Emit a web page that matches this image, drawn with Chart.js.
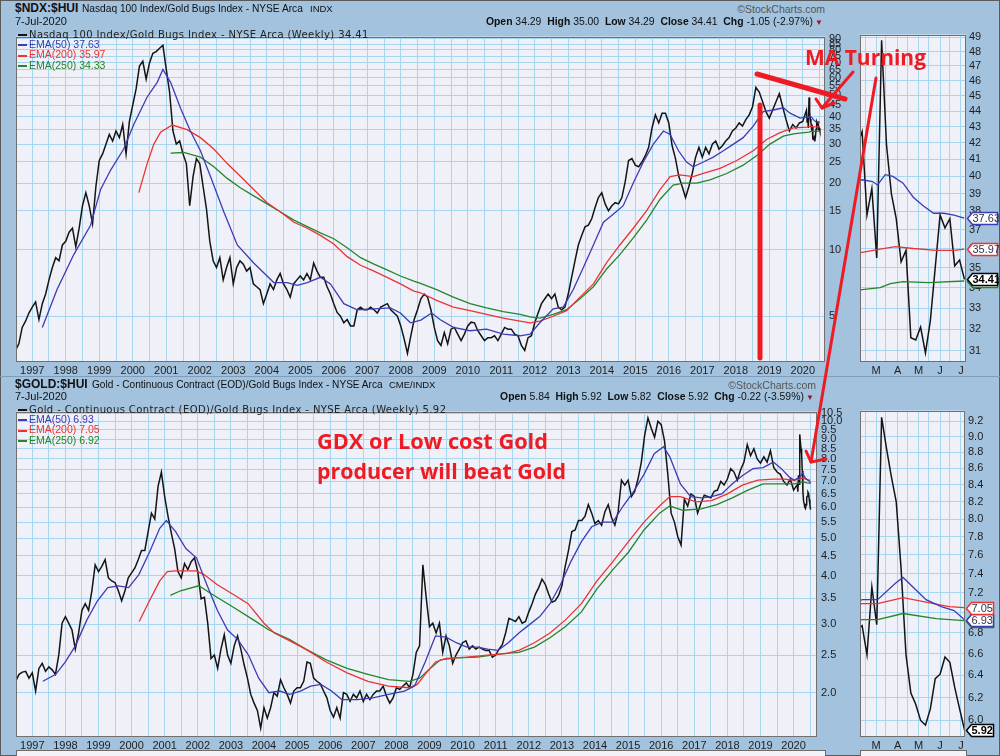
<!DOCTYPE html>
<html>
<head>
<meta charset="utf-8">
<script src="https://cdn.jsdelivr.net/npm/chart.js@4.4.0/dist/chart.umd.min.js"></script>
<style>
body{margin:0;background:#fff}
#wrap{position:relative;width:1000px;height:756px;background:#a2c2de;overflow:hidden;box-shadow:inset 0 0 0 1px #5a5a5a}
canvas{position:absolute}
.t{position:absolute;white-space:nowrap;font-family:"Liberation Sans",Arial,sans-serif;color:#111;line-height:12px}
.lg{position:absolute;left:18px;height:11px;line-height:11px;white-space:nowrap;font-family:"Liberation Sans",Arial,sans-serif;font-size:10.5px;z-index:5}
.lg s{display:inline-block;width:9px;height:2px;vertical-align:middle;margin-right:2px;text-decoration:none}
.lg.first{font-family:"DejaVu Sans",sans-serif;font-size:10px;letter-spacing:0.4px;color:#222}
.hd{font-size:10.4px}
.hd b{font-weight:bold}
</style>
</head>
<body>
<div id="wrap">
  <canvas id="topMain" width="845" height="352" style="left:14px;top:26px"></canvas>
  <canvas id="topSide" width="141" height="353" style="left:858px;top:25px"></canvas>
  <canvas id="goldMain" width="843" height="352" style="left:14px;top:401px"></canvas>
  <canvas id="goldSide" width="140" height="352" style="left:858px;top:401px"></canvas>

  <div class="t" style="left:15px;top:2px;font-size:12px;font-weight:bold">$NDX:$HUI</div>
  <div class="t" style="left:82px;top:3px;font-size:10.2px">Nasdaq 100 Index/Gold Bugs Index - NYSE Arca</div>
  <div class="t" style="left:310px;top:3px;font-size:9.5px">INDX</div>
  <div class="t" style="left:15px;top:15px;font-size:11px">7-Jul-2020</div>
  <div class="t" style="right:175px;top:3px;font-size:10.5px;color:#555">&copy;StockCharts.com</div>
  <div class="t hd" style="right:177px;top:16px"><b>Open</b> 34.29 &nbsp;<b>High</b> 35.00 &nbsp;<b>Low</b> 34.29 &nbsp;<b>Close</b> 34.41 &nbsp;<b>Chg</b> -1.05 (-2.97%)<span style="color:#a0102a;font-size:8px"> &#9660;</span></div>

  <div class="t" style="left:15px;top:378px;font-size:12px;font-weight:bold">$GOLD:$HUI</div>
  <div class="t" style="left:92px;top:379px;font-size:10.1px">Gold - Continuous Contract (EOD)/Gold Bugs Index - NYSE Arca</div>
  <div class="t" style="left:389px;top:379px;font-size:9.5px">CME/INDX</div>
  <div class="t" style="left:15px;top:390px;font-size:11px">7-Jul-2020</div>
  <div class="t" style="right:184px;top:379px;font-size:10.5px;color:#555">&copy;StockCharts.com</div>
  <div class="t hd" style="right:186px;top:391px"><b>Open</b> 5.84 &nbsp;<b>High</b> 5.92 &nbsp;<b>Low</b> 5.82 &nbsp;<b>Close</b> 5.92 &nbsp;<b>Chg</b> -0.22 (-3.59%)<span style="color:#a0102a;font-size:8px"> &#9660;</span></div>

  <div id="legTop"></div>
  <div id="legGold"></div>

  <div style="position:absolute;left:0;top:376px;width:1000px;height:1px;background:#7f9cba"></div>
  <div style="position:absolute;left:16px;top:750px;width:808px;height:20px;background:#f2f2f8;border:1px solid #6d6d6d"></div>
  <div style="position:absolute;left:860px;top:750px;width:105px;height:20px;background:#f2f2f8;border:1px solid #6d6d6d"></div>

  <canvas id="ov" width="1000" height="756" style="left:0;top:0;z-index:9;pointer-events:none"></canvas>
</div>

<script>
// ---- data ----
// main series: one reading every 0.1 year from mid-1996, then the weekly closes of 2020
var sampleStart = 1996.5, sampleStep = 0.1;
var weekDates = ['2020-02-10','2020-02-17','2020-02-24','2020-03-02','2020-03-09','2020-03-16','2020-03-23','2020-03-30',
  '2020-04-06','2020-04-13','2020-04-20','2020-04-27','2020-05-04','2020-05-11','2020-05-18','2020-05-25',
  '2020-06-01','2020-06-08','2020-06-15','2020-06-22','2020-06-29','2020-07-06'];

var ndxHui = [3.5,3.75,4.45,4.75,5.17,5.5,5.8,4.83,5.7,6.3,
  7.3,8.3,9.2,8.9,10.5,10.9,12.0,12.5,10.3,12.5,
  15.8,18.1,15.8,13.1,19.3,25.3,27.1,30.0,33.2,31.0,
  34.4,32.1,36.8,27.1,38.0,45.0,53.3,67.6,71.1,59.0,
  69.9,77.3,78.6,81.4,84.0,65.3,51.5,34.4,30.0,31.0,
  27.1,24.5,15.8,21.4,25.8,24.5,19.3,15.3,10.9,8.9,
  8.3,9.2,7.3,8.3,9.2,7.0,8.3,8.9,8.6,8.0,
  8.3,7.0,6.8,6.6,5.7,6.3,7.0,6.6,7.3,7.8,
  7.0,6.6,6.1,7.0,7.3,7.6,7.3,7.8,7.3,8.7,
  8.0,7.5,7.5,6.8,6.3,5.7,5.2,5.0,4.67,4.83,
  4.52,4.52,5.35,5.5,5.35,5.35,5.5,5.35,5.17,5.5,
  5.6,5.7,5.35,5.17,5.0,4.52,3.95,3.4,4.08,4.83,
  5.35,6.0,6.3,6.1,5.35,4.45,3.88,3.69,4.22,3.75,
  4.37,4.45,4.15,3.88,4.15,4.52,4.7,4.67,4.3,4.08,
  3.88,4.0,4.0,4.08,3.88,4.15,4.45,4.37,4.37,4.15,
  4.08,3.69,3.5,4.0,4.08,4.67,5.17,5.7,6.0,6.3,
  6.0,6.3,5.5,5.35,5.5,6.3,7.5,8.9,10.5,11.6,
  12.7,12.9,13.8,15.5,17.2,18.1,16.1,15.0,15.8,16.3,
  16.1,17.2,20.3,25.3,25.8,24.1,23.7,24.9,26.6,29.0,
  35.5,40.7,37.4,41.4,41.4,37.4,29.5,25.8,21.4,19.3,
  17.2,19.3,22.1,26.2,29.0,26.2,29.0,27.1,30.0,31.0,
  28.5,29.5,31.0,32.1,34.4,35.5,37.4,36.2,38.7,40.7,
  44.3,54.2,51.6,46.6,42.1,39.3,42.8,46.6,50.7,44.3,
  38.7,34.4,36.8,35.5,37.4,38.0];
var ndxHuiWeekly = [42.7,37.8,39.3,35.5,48.8,41.9,39.0,37.6,35.3,35.9,31.6,31.5,32.1,30.9,32.4,35.0,37.8,37.1,37.6,35.1,35.4,34.41];

var goldHui = [2.14,2.23,2.26,2.27,2.18,2.25,2.02,2.31,2.38,2.27,
  2.33,2.29,2.23,2.5,3.02,3.14,3.02,2.9,2.59,2.85,
  3.26,3.39,3.26,3.66,4.27,4.1,4.23,4.4,3.95,3.88,
  3.84,3.66,3.45,3.66,3.95,4.07,4.19,4.4,4.65,4.65,
  5.2,5.8,5.6,6.8,7.4,6.4,5.7,5.15,4.7,4.1,
  3.95,4.3,4.15,4.35,4.45,4.1,3.49,3.52,3.02,2.45,
  2.5,2.31,2.59,2.82,2.5,2.38,2.64,2.8,2.59,2.36,
  2.18,1.98,1.88,1.8,1.62,1.83,1.72,1.83,2.0,1.96,
  2.16,2.06,1.98,1.88,2.02,2.06,2.06,2.14,2.4,2.38,
  2.18,2.14,2.11,2.02,1.94,1.8,1.73,1.83,1.72,2.0,
  1.98,1.9,1.98,1.94,2.02,1.9,1.98,1.92,1.98,2.02,
  2.02,2.08,1.96,1.88,1.94,2.06,2.04,2.08,2.12,2.06,
  2.23,2.54,2.64,4.27,3.52,2.96,3.02,2.85,3.02,2.54,
  2.8,2.64,2.38,2.5,2.59,2.69,2.72,2.59,2.64,2.59,
  2.62,2.59,2.57,2.57,2.47,2.5,2.59,2.66,2.85,3.11,
  3.08,3.05,3.14,3.02,3.05,3.23,3.39,3.59,3.73,3.92,
  3.8,3.59,3.42,3.45,3.56,3.77,4.23,4.65,5.2,5.25,
  5.55,5.55,5.7,6.1,5.8,5.45,5.55,5.4,5.85,6.1,
  5.65,5.4,5.85,7.05,6.85,7.05,6.4,6.6,7.1,7.85,
  9.2,10.2,9.6,9.1,10.0,9.8,8.9,7.3,5.8,5.5,
  5.05,4.8,6.3,6.05,6.5,6.4,5.8,6.15,6.45,6.4,
  6.35,6.6,6.65,7.0,6.85,7.1,7.55,7.4,7.05,7.5,
  7.85,8.7,8.15,8.5,8.0,7.8,8.1,7.85,8.4,7.6,
  7.4,7.3,7.0,6.85,7.1,6.65];
var goldHuiWeekly = [6.87,6.59,7.26,6.88,9.25,8.85,8.5,8.2,7.45,6.59,6.24,6.14,6.0,5.96,6.1,6.37,6.41,6.57,6.52,6.29,6.1,5.92];

// moving averages: [year, value]
var ndxEma50 = [[1997.30,4.45],[1997.74,6.6],[1998.24,9.5],[1998.74,12.9],[1999.04,18.7],[1999.34,22.9],[1999.73,28.5],
  [2000.03,36.8],[2000.43,49.0],[2000.73,57.1],[2000.9,65.3],[2001.13,57.1],[2001.43,43.5],[2001.72,34.4],[2002.02,28.0],
  [2002.32,21.4],[2002.72,14.8],[2003.12,10.5],[2003.61,8.7],[2004.21,7.1],[2004.61,7.1],[2004.91,6.9],[2005.21,7.1],
  [2005.6,7.5],[2005.9,7.0],[2006.3,5.7],[2006.7,5.35],[2007.2,5.4],[2007.69,5.45],[2007.99,5.17],[2008.29,4.67],
  [2008.6,4.8],[2008.92,5.17],[2009.17,4.83],[2009.57,4.45],[2010.07,4.3],[2010.56,4.37],[2011.06,4.15],[2011.56,4.08],
  [2011.86,4.15],[2012.15,4.67],[2012.55,5.4],[2012.85,5.5],[2013.15,6.6],[2013.45,8.3],[2013.75,10.5],[2014.05,13.3],
  [2014.35,14.5],[2014.64,15.8],[2014.94,20.0],[2015.24,24.9],[2015.54,30.0],[2015.84,34.4],[2016.04,33.2],[2016.29,28.0],
  [2016.53,24.9],[2016.73,23.7],[2017.03,24.9],[2017.33,26.2],[2017.63,28.0],[2017.93,30.0],[2018.22,32.1],[2018.52,36.2],
  [2018.82,42.1],[2019.12,42.8],[2019.42,43.8],[2019.62,41.4],[2019.92,39.3],[2020.11,39.8],[2020.15,39.7],[2020.17,39.5],
  [2020.2,40.1],[2020.23,40.0],[2020.27,39.6],[2020.31,38.8],[2020.35,38.3],[2020.39,37.9],[2020.43,37.9],[2020.47,37.8],
  [2020.51,37.63]];
var ndxEma200 = [[2000.18,18.1],[2000.43,24.5],[2000.63,30.0],[2000.83,34.0],[2001.18,36.6],[2001.62,34.9],[2002.02,32.1],
  [2002.42,28.5],[2002.82,24.5],[2003.22,21.4],[2003.61,18.7],[2004.01,16.3],[2004.41,14.8],[2004.81,13.3],[2005.21,12.5],
  [2005.6,11.6],[2006.0,10.6],[2006.4,9.3],[2006.8,8.5],[2007.2,8.0],[2007.59,7.5],[2007.99,7.0],[2008.39,6.5],[2008.57,6.4],
  [2009.07,5.9],[2009.57,5.5],[2010.07,5.3],[2010.56,5.1],[2011.06,4.9],[2011.56,4.75],[2011.86,4.67],[2012.15,4.75],
  [2012.55,5.0],[2012.95,5.3],[2013.35,6.1],[2013.75,7.0],[2014.15,8.75],[2014.54,10.5],[2014.94,12.5],[2015.34,15.0],
  [2015.74,18.7],[2016.04,21.4],[2016.33,21.8],[2016.73,21.4],[2017.03,22.1],[2017.53,23.3],[2018.03,25.3],[2018.52,28.0],
  [2018.92,31.5],[2019.32,33.8],[2019.72,35.5],[2020.11,35.8],[2020.18,35.97],[2020.24,36.1],[2020.31,36.0],[2020.4,35.9],
  [2020.47,35.9],[2020.51,35.97]];
var ndxEma250 = [[2001.13,27.3],[2001.52,27.5],[2002.02,26.2],[2002.42,23.7],[2002.82,21.0],[2003.22,19.0],[2003.61,17.5],
  [2004.01,16.1],[2004.41,14.8],[2004.81,13.6],[2005.21,12.7],[2005.6,11.9],[2006.0,11.2],[2006.4,10.2],[2006.8,9.2],
  [2007.2,8.6],[2007.59,8.1],[2007.99,7.6],[2008.39,7.2],[2008.57,7.05],[2009.07,6.6],[2009.57,6.1],[2010.07,5.7],
  [2010.56,5.45],[2011.06,5.25],[2011.56,5.1],[2011.86,4.97],[2012.15,4.9],[2012.55,5.1],[2012.95,5.35],[2013.35,6.0],
  [2013.75,6.8],[2014.15,8.2],[2014.54,9.5],[2014.94,11.3],[2015.34,13.6],[2015.74,16.9],[2016.13,19.6],[2016.43,20.0],
  [2016.83,20.0],[2017.23,20.7],[2017.73,22.1],[2018.22,24.1],[2018.62,26.6],[2019.02,30.0],[2019.42,32.6],[2019.72,33.4],
  [2020.11,33.9],[2020.18,34.0],[2020.22,34.2],[2020.27,34.3],[2020.37,34.25],[2020.51,34.33]];

var goldEma50 = [[1997.32,2.14],[1997.71,2.23],[1998.0,2.4],[1998.3,2.64],[1998.65,3.08],[1998.97,3.45],[1999.28,3.73],
  [1999.6,3.77],[1999.91,3.73],[2000.22,4.03],[2000.54,4.6],[2000.85,5.3],[2001.05,5.55],[2001.33,5.2],[2001.64,4.7],
  [2001.96,4.45],[2002.27,3.8],[2002.59,3.26],[2002.9,2.9],[2003.21,2.74],[2003.53,2.5],[2003.84,2.18],[2004.15,2.0],
  [2004.47,2.02],[2004.78,1.98],[2005.1,2.02],[2005.41,2.08],[2005.72,2.1],[2006.04,2.02],[2006.35,1.92],[2006.82,1.92],
  [2007.29,1.94],[2007.76,1.98],[2008.24,2.02],[2008.55,2.08],[2008.87,2.4],[2009.18,2.8],[2009.5,2.78],[2009.81,2.69],
  [2010.13,2.62],[2010.44,2.62],[2010.76,2.59],[2011.07,2.57],[2011.38,2.69],[2011.7,2.85],[2012.01,2.99],[2012.33,3.14],
  [2012.64,3.39],[2012.96,3.8],[2013.27,4.35],[2013.59,4.9],[2013.9,5.35],[2014.22,5.5],[2014.54,5.5],[2014.85,6.05],
  [2015.17,6.6],[2015.48,7.3],[2015.79,8.25],[2016.07,8.6],[2016.26,8.1],[2016.58,6.9],[2016.89,6.4],[2017.21,6.35],
  [2017.52,6.4],[2017.83,6.5],[2018.15,6.9],[2018.46,7.25],[2018.77,7.55],[2019.08,7.6],[2019.39,7.85],[2019.63,7.55],
  [2019.86,7.2],[2020.02,7.05],[2020.11,7.13],[2020.17,7.13],[2020.24,7.3],[2020.27,7.36],[2020.36,7.13],[2020.42,7.06],
  [2020.47,7.02],[2020.51,6.93]];
var goldEma200 = [[2000.23,3.05],[2000.54,3.45],[2000.85,3.88],[2001.08,4.1],[2001.32,4.12],[2001.95,4.12],[2002.19,4.03],
  [2002.58,3.8],[2003.05,3.59],[2003.52,3.39],[2004.0,3.02],[2004.31,2.85],[2004.78,2.72],[2005.26,2.59],[2005.88,2.4],
  [2006.51,2.25],[2007.14,2.14],[2007.76,2.08],[2008.39,2.06],[2008.63,2.1],[2008.87,2.23],[2009.18,2.4],[2009.5,2.45],
  [2010.13,2.47],[2010.76,2.5],[2011.3,2.52],[2011.7,2.57],[2012.17,2.69],[2012.64,2.85],[2013.11,3.08],[2013.59,3.39],
  [2014.06,3.88],[2014.54,4.35],[2015.01,4.9],[2015.48,5.5],[2015.95,6.05],[2016.26,6.4],[2016.58,6.4],[2017.05,6.2],
  [2017.52,6.25],[2018.0,6.5],[2018.45,6.85],[2018.92,7.05],[2019.39,7.1],[2019.71,7.1],[2020.02,7.05],[2020.11,7.09],
  [2020.17,7.09],[2020.27,7.15],[2020.37,7.1],[2020.45,7.06],[2020.51,7.05]];
var goldEma250 = [[2001.17,3.56],[2001.48,3.66],[2002.03,3.77],[2002.42,3.59],[2003.05,3.33],[2003.68,3.08],[2004.15,2.9],
  [2004.78,2.74],[2005.26,2.59],[2005.88,2.43],[2006.51,2.31],[2007.14,2.23],[2007.76,2.16],[2008.39,2.14],[2008.7,2.18],
  [2009.02,2.31],[2009.33,2.43],[2009.81,2.46],[2010.44,2.47],[2011.22,2.52],[2011.7,2.54],[2012.17,2.62],[2012.64,2.77],
  [2013.11,2.96],[2013.59,3.23],[2014.06,3.7],[2014.54,4.15],[2015.01,4.6],[2015.48,5.25],[2015.95,5.8],[2016.26,6.05],
  [2016.66,5.9],[2017.21,5.95],[2017.68,6.1],[2018.15,6.35],[2018.62,6.65],[2019.08,6.9],[2019.55,6.9],[2020.02,6.9],
  [2020.11,6.93],[2020.17,6.93],[2020.27,6.99],[2020.4,6.94],[2020.51,6.92]];

// axis labels
var yearLabels = ['1997','1998','1999','2000','2001','2002','2003','2004','2005','2006','2007','2008',
  '2009','2010','2011','2012','2013','2014','2015','2016','2017','2018','2019','2020'];
var ndxTicks = [5,10,15,20,25,30,35,40,45,50,55,60,65,70,75,80,85,90];
var goldTicks = [2.0,2.5,3.0,3.5,4.0,4.5,5.0,5.5,6.0,6.5,7.0,7.5,8.0,8.5,9.0,9.5,10.0,10.5];
var ndxSideTicks = [31,32,33,34,35,36,37,38,39,40,41,42,43,44,45,46,47,48,49];
var goldSideTicks = [6.0,6.2,6.4,6.6,6.8,7.0,7.2,7.4,7.6,7.8,8.0,8.2,8.4,8.6,8.8,9.0,9.2];
var monthTicks = [['2020-02-15',''],['2020-03-01','M'],['2020-03-15',''],['2020-04-01','A'],['2020-04-15',''],
  ['2020-05-01','M'],['2020-05-15',''],['2020-06-01','J'],['2020-06-15',''],['2020-07-01','J']];

// ---- styling ----
var PLOT_BG = '#eff0f8', GRID = '#a8d6ef';
var BLUE = '#3c3cb4', RED = '#ea3434', GREEN = '#23862a', MARK = '#ed1c24';
Chart.defaults.font.family = '"Liberation Sans", Arial, sans-serif';
Chart.defaults.font.size = 11;
Chart.defaults.color = '#1e1e1e';

function yr(s) {
  var d = Date.parse(s + 'T00:00:00Z'), y = +s.slice(0, 4);
  return y + (d - Date.UTC(y, 0, 1)) / (Date.UTC(y + 1, 0, 1) - Date.UTC(y, 0, 1));
}
function priceSeries(vals, weekly) {
  var pts = vals.map(function (v, i) { return {x: sampleStart + i * sampleStep, y: v}; });
  weekDates.forEach(function (d, i) { pts.push({x: yr(d), y: weekly[i]}); });
  return pts;
}
function pairs(a) { return a.map(function (p) { return {x: p[0], y: p[1]}; }); }
function last(a) { return a[a.length - 1][1]; }

var yearTickVals = [];
yearLabels.forEach(function (l) { yearTickVals.push(+l, +l + 0.5); });

var boxPlugin = {
  id: 'box',
  beforeDraw: function (chart) {
    var a = chart.chartArea, c = chart.ctx;
    c.save(); c.fillStyle = PLOT_BG; c.fillRect(a.left, a.top, a.right - a.left, a.bottom - a.top); c.restore();
  },
  afterDraw: function (chart, args, opts) {
    var a = chart.chartArea, c = chart.ctx;
    c.save();
    c.strokeStyle = '#707070'; c.lineWidth = 1;
    c.strokeRect(Math.round(a.left) + 0.5, Math.round(a.top) + 0.5, Math.round(a.right - a.left) - 1, Math.round(a.bottom - a.top) - 1);
    (opts.tags || []).forEach(function (t) {
      var y = Math.round(chart.scales.y.getPixelForValue(t.v)) + 0.5, x0 = Math.round(a.right) + 1.5, w = opts.tagW;
      c.beginPath();
      c.moveTo(x0, y); c.lineTo(x0 + 5, y - 6); c.lineTo(x0 + w, y - 6); c.lineTo(x0 + w, y + 6); c.lineTo(x0 + 5, y + 6); c.closePath();
      c.fillStyle = '#fff'; c.fill();
      c.strokeStyle = t.c; c.lineWidth = 1.5; c.stroke();
      c.fillStyle = t.bold ? '#000' : '#33334a';
      c.font = (t.bold ? 'bold ' : '') + '11px "Liberation Sans", Arial, sans-serif';
      c.textBaseline = 'middle'; c.textAlign = 'left';
      c.fillText(t.v.toFixed(2), x0 + 5, y + 0.5);
    });
    c.restore();
  }
};

function makeChart(id, o) {
  return new Chart(document.getElementById(id), {
    type: 'line',
    data: {datasets: [
      {data: o.price, borderColor: '#141414', borderWidth: 1.5, order: 4},
      {data: pairs(o.e50), borderColor: BLUE, borderWidth: 1.3, order: 1},
      {data: pairs(o.e200), borderColor: RED, borderWidth: 1.3, order: 2},
      {data: pairs(o.e250), borderColor: GREEN, borderWidth: 1.3, order: 3}
    ]},
    options: {
      responsive: false, animation: false, devicePixelRatio: 1,
      layout: {padding: {left: 2, top: 2, right: 0, bottom: 0}},
      elements: {point: {radius: 0}, line: {tension: 0}},
      plugins: {legend: {display: false}, tooltip: {enabled: false}, box: {tags: o.tags, tagW: o.tagW}},
      scales: {
        x: {
          type: 'linear', min: o.xmin, max: o.xmax,
          afterBuildTicks: function (s) { s.ticks = o.xticks.map(function (v) { return {value: v}; }); },
          afterFit: function (s) { s.height = 16; },
          ticks: {autoSkip: false, maxRotation: 0, padding: 2, callback: o.xlabel},
          grid: {drawTicks: false, color: GRID},
          border: {display: false}
        },
        y: {
          type: 'logarithmic', position: 'right', min: o.ymin, max: o.ymax,
          afterBuildTicks: function (s) { s.ticks = o.yticks.map(function (v) { return {value: v}; }); },
          afterFit: function (s) { s.width = o.yw; },
          ticks: {autoSkip: false, padding: o.ypad, callback: o.ylabel},
          grid: {drawTicks: false, color: GRID},
          border: {display: false}
        }
      }
    },
    plugins: [boxPlugin]
  });
}

var ndxPrice = priceSeries(ndxHui, ndxHuiWeekly);
var goldPrice = priceSeries(goldHui, goldHuiWeekly);
var yearLabel = function (v) { return v % 1 === 0 ? String(v) : ''; };
var monthVals = monthTicks.map(function (m) { return yr(m[0]); });
var monthLabel = function (v, i) { return monthTicks[i][1]; };
var int = function (v) { return String(v); };
var one = function (v) { return v.toFixed(1); };

makeChart('topMain', {price: ndxPrice, e50: ndxEma50, e200: ndxEma200, e250: ndxEma250,
  xmin: 1996.515, xmax: 2020.663, xticks: yearTickVals, xlabel: yearLabel,
  ymin: 3.105, ymax: 91.9, yticks: ndxTicks, ylabel: int, yw: 34, ypad: 4});
makeChart('topSide', {price: ndxPrice, e50: ndxEma50, e200: ndxEma200, e250: ndxEma250,
  xmin: 2020.101, xmax: 2020.517, xticks: monthVals, xlabel: monthLabel,
  ymin: 30.5, ymax: 49.2, yticks: ndxSideTicks, ylabel: int, yw: 33, ypad: 3, tagW: 30,
  tags: [{v: last(ndxEma250), c: GREEN}, {v: last(ndxEma50), c: BLUE}, {v: last(ndxEma200), c: RED},
         {v: ndxHuiWeekly[ndxHuiWeekly.length - 1], c: '#000', bold: true}]});
makeChart('goldMain', {price: goldPrice, e50: goldEma50, e200: goldEma200, e250: goldEma250,
  xmin: 1996.508, xmax: 2020.707, xticks: yearTickVals, xlabel: yearLabel,
  ymin: 1.538, ymax: 10.59, yticks: goldTicks, ylabel: one, yw: 40, ypad: 4});
makeChart('goldSide', {price: goldPrice, e50: goldEma50, e200: goldEma200, e250: goldEma250,
  xmin: 2020.101, xmax: 2020.513, xticks: monthVals, xlabel: monthLabel,
  ymin: 5.86, ymax: 9.34, yticks: goldSideTicks, ylabel: one, yw: 33, ypad: 3, tagW: 27,
  tags: [{v: last(goldEma250), c: GREEN}, {v: last(goldEma50), c: BLUE}, {v: last(goldEma200), c: RED},
         {v: goldHuiWeekly[goldHuiWeekly.length - 1], c: '#000', bold: true}]});

// legends
function legend(elId, top, first, e50, e200, e250) {
  var rows = [[first, '#151515', '#222', true], ['EMA(50) ' + e50, BLUE, BLUE], ['EMA(200) ' + e200, RED, RED], ['EMA(250) ' + e250, GREEN, GREEN]];
  document.getElementById(elId).innerHTML = rows.map(function (r, i) {
    return '<div class="lg' + (r[3] ? ' first' : '') + '" style="top:' + (top + i * 10.2) + 'px;color:' + r[2] + '"><s style="background:' + r[1] + '"></s>' + r[0] + '</div>';
  }).join('');
}
legend('legTop', 29, 'Nasdaq 100 Index/Gold Bugs Index - NYSE Arca (Weekly) ' + ndxHuiWeekly[21], last(ndxEma50), last(ndxEma200), last(ndxEma250));
legend('legGold', 404, 'Gold - Continuous Contract (EOD)/Gold Bugs Index - NYSE Arca (Weekly) ' + goldHuiWeekly[21], last(goldEma50), last(goldEma200), last(goldEma250));

// hand-drawn red notes on top of the charts
var ov = document.getElementById('ov').getContext('2d');
ov.strokeStyle = ov.fillStyle = MARK;
ov.lineCap = 'round'; ov.lineJoin = 'round';
function stroke(w, pts) {
  ov.lineWidth = w; ov.beginPath();
  pts.forEach(function (p, i) { if (i) ov.lineTo(p[0], p[1]); else ov.moveTo(p[0], p[1]); });
  ov.stroke();
}
stroke(5, [[757, 74], [845, 99]]);
stroke(5, [[760, 105], [760, 358]]);
stroke(3, [[853, 72], [822, 108]]);
stroke(3, [[816, 99], [822, 108], [834, 103]]);
stroke(3, [[876, 78], [811, 462]]);
stroke(3, [[806, 451], [811, 462], [826, 459]]);
function note(s, x, base, w, size) {
  ov.font = 'bold ' + size + 'px "Open Sans", sans-serif';
  var m = ov.measureText(s).width;
  ov.save(); ov.translate(x, base); ov.scale(w / m, 1); ov.fillText(s, 0, 0); ov.restore();
}
note('MA Turning', 805, 65, 121, 22);
note('GDX or Low cost Gold', 317, 449, 231, 22);
note('producer will beat Gold', 317, 479, 249, 22);
</script>
</body>
</html>
